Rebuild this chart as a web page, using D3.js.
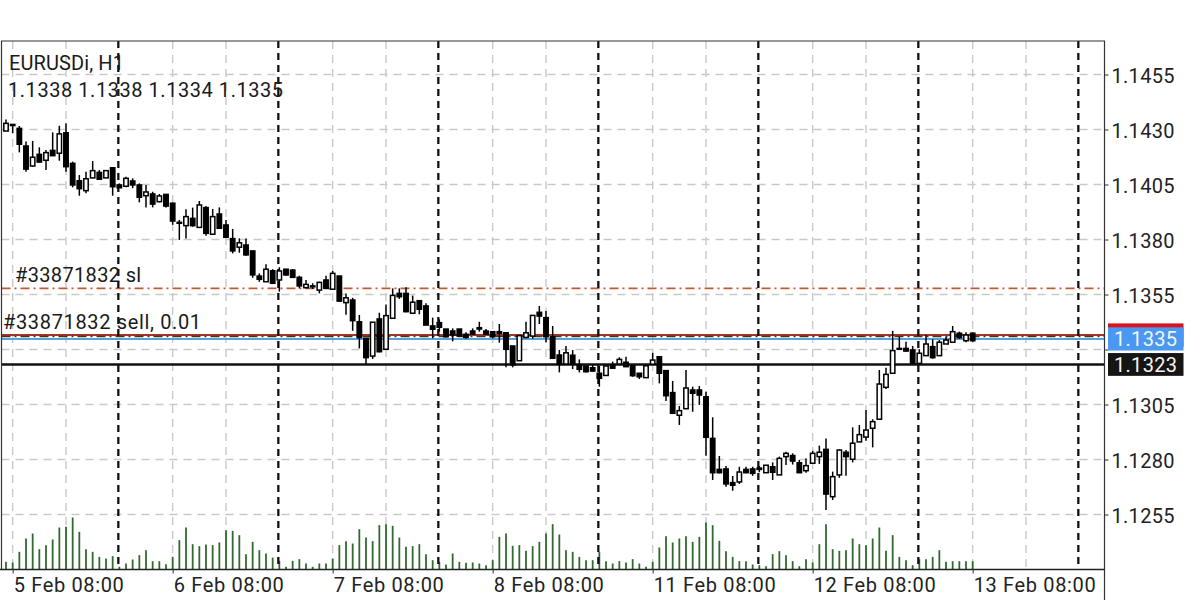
<!DOCTYPE html>
<html><head><meta charset="utf-8">
<script src="https://cdn.jsdelivr.net/npm/d3@7"></script>
<style>html,body{margin:0;padding:0;background:#fff}svg{display:block}text{font-family:Roboto,sans-serif}</style>
</head><body><svg id="c" width="1200" height="600"></svg>
<script>
const opens=[1.14293,1.14323,1.14305,1.14225,1.14134,1.14187,1.14160,1.14205,1.14192,1.14285,1.14146,1.14067,1.14022,1.14080,1.14105,1.14080,1.14126,1.14048,1.14042,1.14066,1.14048,1.13999,1.14007,1.13972,1.14005,1.13965,1.13878,1.13863,1.13896,1.13855,1.13945,1.13824,1.13916,1.13866,1.13804,1.13765,1.13775,1.13748,1.13634,1.13608,1.13658,1.13616,1.13665,1.13661,1.13628,1.13581,1.13589,1.13570,1.13616,1.13574,1.13634,1.13513,1.13525,1.13426,1.13351,1.13270,1.13439,1.13301,1.13442,1.13555,1.13555,1.13465,1.13522,1.13498,1.13407,1.13422,1.13393,1.13384,1.13393,1.13369,1.13384,1.13399,1.13384,1.13381,1.13381,1.13376,1.13316,1.13249,1.13355,1.13361,1.13469,1.13445,1.13358,1.13275,1.13234,1.13274,1.13230,1.13225,1.13217,1.13192,1.13182,1.13230,1.13234,1.13242,1.13226,1.13192,1.13172,1.13233,1.13267,1.13204,1.13104,1.13001,1.13031,1.13116,1.13116,1.13085,1.12896,1.12755,1.12757,1.12695,1.12698,1.12755,1.12757,1.12761,1.12740,1.12767,1.12730,1.12813,1.12818,1.12785,1.12749,1.12783,1.12813,1.12846,1.12631,1.12730,1.12833,1.12801,1.12880,1.12902,1.12942,1.12983,1.13128,1.13192,1.13305,1.13305,1.13298,1.13237,1.13272,1.13313,1.13272,1.13325,1.13333,1.13374,1.13340,1.13374];
const closes=[1.14328,1.14318,1.14233,1.14120,1.14174,1.14152,1.14195,1.14181,1.14280,1.14131,1.14048,1.14031,1.14076,1.14113,1.14074,1.14113,1.14040,1.14035,1.14078,1.14048,1.13992,1.14016,1.13961,1.13998,1.13952,1.13884,1.13874,1.13904,1.13863,1.13957,1.13828,1.13904,1.13851,1.13810,1.13748,1.13785,1.13730,1.13639,1.13619,1.13665,1.13601,1.13657,1.13639,1.13628,1.13589,1.13596,1.13585,1.13605,1.13578,1.13646,1.13520,1.13535,1.13431,1.13354,1.13263,1.13424,1.13290,1.13454,1.13546,1.13540,1.13472,1.13515,1.13483,1.13411,1.13392,1.13401,1.13358,1.13366,1.13361,1.13355,1.13370,1.13393,1.13370,1.13358,1.13374,1.13301,1.13230,1.13363,1.13376,1.13455,1.13452,1.13358,1.13260,1.13234,1.13285,1.13234,1.13210,1.13199,1.13202,1.13169,1.13225,1.13215,1.13255,1.13222,1.13181,1.13176,1.13226,1.13252,1.13192,1.13090,1.13010,1.13022,1.13125,1.13101,1.13093,1.12901,1.12740,1.12740,1.12689,1.12683,1.12743,1.12740,1.12737,1.12755,1.12774,1.12742,1.12805,1.12828,1.12793,1.12740,1.12772,1.12828,1.12833,1.12643,1.12722,1.12843,1.12813,1.12874,1.12913,1.12934,1.12972,1.13143,1.13187,1.13295,1.13301,1.13293,1.13237,1.13283,1.13325,1.13263,1.13333,1.13343,1.13381,1.13354,1.13366,1.13340];
const highs=[1.14346,1.14324,1.14316,1.14245,1.14248,1.14219,1.14207,1.14287,1.14317,1.14328,1.14154,1.14093,1.14108,1.14157,1.14116,1.14116,1.14126,1.14055,1.14085,1.14078,1.14055,1.14048,1.14017,1.14007,1.14007,1.13967,1.13889,1.13937,1.13945,1.13975,1.13952,1.13939,1.13946,1.13889,1.13848,1.13805,1.13805,1.13748,1.13646,1.13687,1.13665,1.13674,1.13666,1.13666,1.13635,1.13616,1.13601,1.13608,1.13635,1.13657,1.13634,1.13555,1.13535,1.13457,1.13352,1.13424,1.13467,1.13505,1.13578,1.13578,1.13583,1.13545,1.13525,1.13510,1.13445,1.13437,1.13393,1.13396,1.13393,1.13378,1.13396,1.13426,1.13393,1.13381,1.13416,1.13378,1.13316,1.13363,1.13426,1.13455,1.13498,1.13475,1.13407,1.13298,1.13316,1.13298,1.13255,1.13225,1.13230,1.13225,1.13227,1.13245,1.13265,1.13267,1.13230,1.13192,1.13230,1.13285,1.13267,1.13204,1.13157,1.13043,1.13207,1.13131,1.13134,1.13108,1.12992,1.12816,1.12770,1.12725,1.12767,1.12767,1.12767,1.12770,1.12774,1.12787,1.12813,1.12835,1.12828,1.12798,1.12805,1.12839,1.12863,1.12896,1.12745,1.12846,1.12843,1.12946,1.12957,1.13025,1.12983,1.13207,1.13217,1.13385,1.13358,1.13335,1.13316,1.13301,1.13366,1.13346,1.13343,1.13358,1.13407,1.13381,1.13378,1.13378];
const lows=[1.14293,1.14283,1.14196,1.14108,1.14131,1.14149,1.14116,1.14180,1.14158,1.14108,1.14037,1.13999,1.14010,1.14078,1.14074,1.14080,1.13999,1.14034,1.14037,1.14033,1.13969,1.13946,1.13946,1.13969,1.13946,1.13867,1.13798,1.13805,1.13858,1.13855,1.13817,1.13824,1.13848,1.13810,1.13737,1.13740,1.13726,1.13626,1.13608,1.13608,1.13598,1.13563,1.13635,1.13628,1.13578,1.13578,1.13575,1.13555,1.13578,1.13574,1.13517,1.13458,1.13385,1.13305,1.13234,1.13257,1.13287,1.13301,1.13442,1.13530,1.13469,1.13461,1.13460,1.13411,1.13351,1.13381,1.13355,1.13337,1.13358,1.13349,1.13366,1.13381,1.13366,1.13351,1.13331,1.13219,1.13219,1.13248,1.13351,1.13349,1.13416,1.13333,1.13257,1.13196,1.13234,1.13211,1.13196,1.13196,1.13199,1.13131,1.13182,1.13215,1.13234,1.13222,1.13176,1.13166,1.13172,1.13230,1.13146,1.13066,1.13007,1.12957,1.13028,1.13017,1.13048,1.12817,1.12707,1.12737,1.12676,1.12658,1.12689,1.12737,1.12726,1.12742,1.12740,1.12707,1.12730,1.12775,1.12777,1.12740,1.12740,1.12780,1.12780,1.12570,1.12616,1.12717,1.12726,1.12787,1.12880,1.12885,1.12855,1.12980,1.13120,1.13192,1.13298,1.13290,1.13237,1.13237,1.13272,1.13258,1.13272,1.13325,1.13333,1.13348,1.13333,1.13335];
const volumes=[230,210,530,930,1080,610,730,900,1260,1280,1560,1130,610,530,380,330,400,80,180,300,430,580,250,250,160,380,880,1260,760,700,750,730,810,1180,1160,1030,460,830,580,480,360,260,80,260,310,180,80,180,180,330,730,850,780,1210,960,850,1330,1360,1310,960,680,700,760,460,280,230,150,480,230,200,210,180,130,280,980,1080,710,730,560,700,830,1080,1360,1050,580,530,380,280,280,530,250,180,250,210,310,180,80,230,660,1000,810,930,1000,830,980,1410,1330,860,550,380,250,250,150,130,100,460,550,430,250,100,310,210,760,1360,610,560,580,930,760,730,930,1260,560,1030,380,280,130,310,310,380,580,230,250,250,250,250];
const priceTicks=[1.1455,1.1430,1.1405,1.1380,1.1355,1.1330,1.1305,1.1280,1.1255];
const hiddenTick=1.1330;
const timeLabels=["5 Feb 08:00","6 Feb 08:00","7 Feb 08:00","8 Feb 08:00","11 Feb 08:00","12 Feb 08:00","13 Feb 08:00"];
const titleLines=["EURUSDi, H1","1.1338 1.1338 1.1334 1.1335"];
const slLevel=1.13578, askLevel=1.13366, orderLevel=1.13359, bidLevel=1.13348, blackLevel=1.13232;
const slText="#33871832 sl", orderText="#33871832 sell, 0.01";
const bidLabel="1.1335", blackLabel="1.1323";

const svg=d3.select("#c");
const L=1.5,R=1104.5,T=41,B=569.5;
const x=d3.scaleLinear().domain([0,145]).range([6,972.67]);
const y=d3.scaleLinear().domain([1.128,1.1305]).range([459.5,404.5]);
const v=d3.scaleLinear().domain([0,1560]).range([B,B-52]);
const barCount=162;

// grid
const grayIdx=d3.range(1,barCount,8).filter(i=>(i-17)%24!==0);
const blackIdx=d3.range(17,barCount,24);
const grid=svg.append("g");
grid.selectAll("line.v").data(grayIdx).join("line").attr("class","v")
 .attr("x1",d=>x(d)).attr("x2",d=>x(d)).attr("y1",T).attr("y2",B)
 .attr("stroke","#c9c9c9").attr("stroke-width",1.4).attr("stroke-dasharray","8 6");
grid.selectAll("line.h").data(priceTicks).join("line").attr("class","h")
 .attr("x1",L).attr("x2",R).attr("y1",d=>y(d)).attr("y2",d=>y(d))
 .attr("stroke","#c9c9c9").attr("stroke-width",1.4).attr("stroke-dasharray","8 6");

// horizontal levels
const lv=svg.append("g");
const hline=(p,col,w,dash)=>lv.append("line").attr("x1",L).attr("x2",R).attr("y1",y(p)).attr("y2",y(p)).attr("stroke",col).attr("stroke-width",w).attr("stroke-dasharray",dash||null);
hline(slLevel,"#c05a34",1.7,"9 4 2 4");
hline(bidLevel,"#5aa0dc",2);
hline(askLevel,"#a5352a",2.2);
hline(orderLevel,"#3a3a18",1.4,"9 4 2 4");
hline(blackLevel,"#111",2.4);

// volumes
svg.append("g").selectAll("line").data(volumes).join("line")
 .attr("x1",(d,i)=>x(i)).attr("x2",(d,i)=>x(i)).attr("y1",B).attr("y2",d=>v(d))
 .attr("stroke","#2f6a2f").attr("stroke-width",1.8);

// separators
svg.append("g").selectAll("line").data(blackIdx).join("line")
 .attr("x1",d=>x(d)-1).attr("x2",d=>x(d)-1).attr("y1",T).attr("y2",B)
 .attr("stroke","#111").attr("stroke-width",2.3).attr("stroke-dasharray","7 5");

// candles
const cg=svg.append("g").selectAll("g").data(opens).join("g");
cg.append("line").attr("x1",(d,i)=>x(i)).attr("x2",(d,i)=>x(i))
 .attr("y1",(d,i)=>y(highs[i])).attr("y2",(d,i)=>y(lows[i])).attr("stroke","#000").attr("stroke-width",1.5);
cg.append("rect").attr("x",(d,i)=>x(i)-2.2).attr("width",4.4)
 .attr("y",(d,i)=>y(Math.max(opens[i],closes[i])))
 .attr("height",(d,i)=>Math.max(0.6,Math.abs(y(opens[i])-y(closes[i]))))
 .attr("fill",(d,i)=>closes[i]>=opens[i]?"#fff":"#000")
 .attr("stroke","#000").attr("stroke-width",1.5);

// frame
svg.append("path").attr("d",`M${L},${B}V${T}H${R}V${600}`).attr("fill","none").attr("stroke","#333").attr("stroke-width",1.2);
svg.append("line").attr("x1",0).attr("x2",R).attr("y1",B).attr("y2",B).attr("stroke","#222").attr("stroke-width",1.3);

// axes
const ya=svg.append("g").attr("transform",`translate(${R},0)`).call(d3.axisRight(y).tickValues(priceTicks).tickFormat(d=>d===hiddenTick?"":d3.format(".4f")(d)).tickSize(4).tickPadding(3));
ya.select(".domain").remove();
ya.selectAll("line").attr("stroke","#333");
ya.selectAll("text").attr("font-size",20).attr("fill","#222").attr("font-family","Roboto").attr("letter-spacing",0.3).attr("dy","0.42em");

const labelIdx=d3.range(1,barCount,24);
const xa=svg.append("g").attr("transform",`translate(0,${B})`).call(d3.axisBottom(x).tickValues(labelIdx).tickFormat((d,i)=>timeLabels[i]).tickSize(4).tickPadding(4));
xa.select(".domain").remove();
xa.selectAll("line").attr("stroke","#333");
xa.selectAll("text").attr("font-size",20).attr("fill","#222").attr("font-family","Roboto").attr("text-anchor","start").attr("dx",0.5).attr("letter-spacing",0.65);

// tags
const tag=(p,col,h,txt)=>{
 const c=y(p);
 svg.append("rect").attr("x",1108).attr("width",75.5).attr("y",c-h/2).attr("height",h).attr("fill",col);
 if(txt) svg.append("text").attr("x",1114).attr("y",c).attr("dy","0.36em").attr("font-size",20).attr("fill","#f4f4f4").attr("letter-spacing",0.3).text(txt);
};
tag(askLevel,"#d8141c",23.2);
tag(bidLevel,"#4a98f2",23.2,bidLabel);
tag(blackLevel,"#151515",22.8,blackLabel);

// text
const tx=(s,xp,yp,ls)=>svg.append("text").attr("x",xp).attr("y",yp).attr("font-size",20).attr("fill","#1a1a1a").attr("letter-spacing",ls).text(s);
tx(titleLines[0],9,70,0.1);
tx(titleLines[1],8,96.5,0.55);
tx(slText,15,281.5,0.35);
tx(orderText,3,329,0.65);
</script></body></html>
